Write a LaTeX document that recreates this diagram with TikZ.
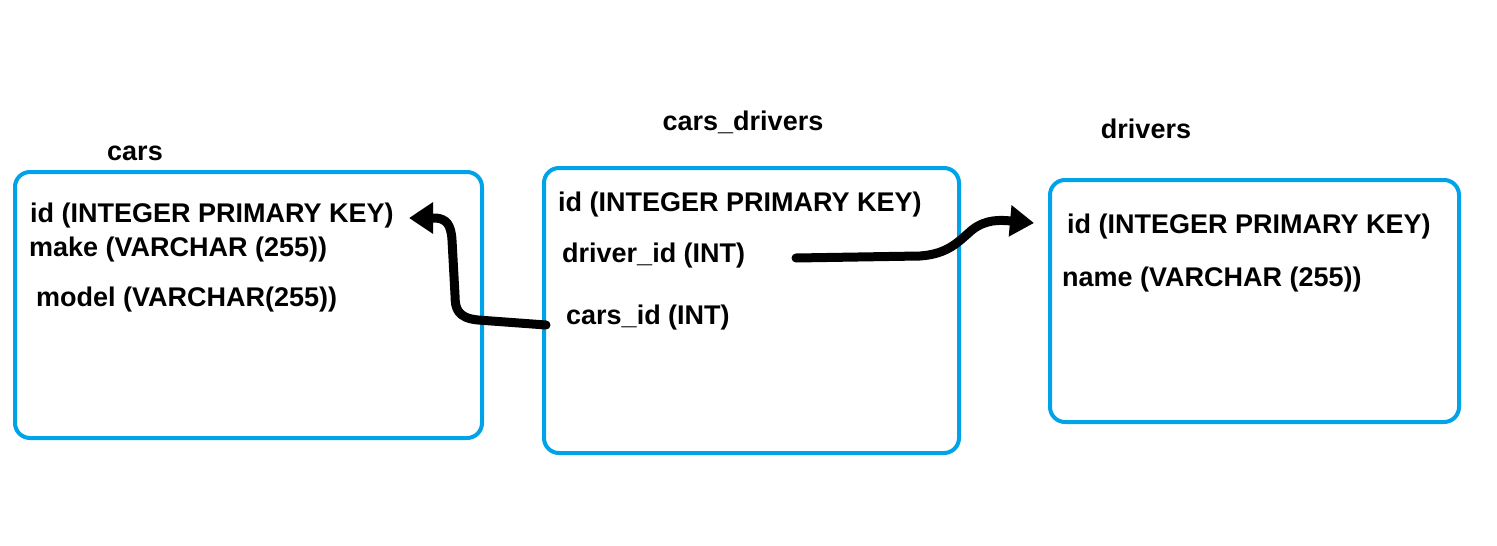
\documentclass[tikz,border=0pt]{standalone}
\usepackage{fontspec}
\setmainfont{Liberation Sans}
\usetikzlibrary{arrows.meta}
\definecolor{paintblue}{HTML}{00A2E8}
\begin{document}
\begin{tikzpicture}[x=1pt,y=-1pt,
  tbl/.style={draw=paintblue,line width=4pt,rounded corners=15pt,inner sep=0pt},
  title/.style={font=\fontsize{27}{30}\selectfont\bfseries,inner sep=0pt},
  field/.style={font=\fontsize{27}{30}\selectfont\bfseries,inner sep=0pt,anchor=west},
  fk/.style={line width=9pt,line cap=round,line join=round,-{Triangle[length=24pt,width=30pt]}}]
\useasboundingbox (0,0) rectangle (1497,546);
% tables
\node[tbl,minimum width=467pt,minimum height=266pt] (cars) at (248.5,305) {};
\node[tbl,minimum width=415pt,minimum height=285pt] (carsdrivers) at (751.5,310.5) {};
\node[tbl,minimum width=409pt,minimum height=242pt] (drivers) at (1254.5,301) {};
% titles
\node[title] (tcars) at (135,153) {cars};
\node[title] (tcd) at (743,122) {cars\_drivers};
\node[title] (tdrv) at (1146,129) {drivers};
% fields
\node[field] (cid) at (30,216) {id (INTEGER PRIMARY KEY)};
\node[field] (cmake) at (29,250) {make (VARCHAR (255))};
\node[field] (cmodel) at (36,300) {model (VARCHAR(255))};
\node[field] (cdid) at (558,205) {id (INTEGER PRIMARY KEY)};
\node[field] (cddrv) at (562,256) {driver\_id (INT)};
\node[field] (cdcar) at (566,318) {cars\_id (INT)};
\node[field] (did) at (1067,227) {id (INTEGER PRIMARY KEY)};
\node[field] (dname) at (1062,280) {name (VARCHAR (255))};
% connector ends
\coordinate (a1s) at (546,325);
\coordinate (a1e) at (409,218);
\coordinate (a2s) at (796,258);
\coordinate (a2e) at (1034,223);
\draw[fk] (a1s) -- (478,320) .. controls (457,318) and (455,308) .. (455,295)
  -- (452,240) .. controls (451,224) and (446,219) .. (436,218) -- (a1e);
\draw[fk] (a2s) -- (920,256) .. controls (948,254) and (958,242) .. (972,230)
  .. controls (986,219) and (1000,220) .. (a2e);
\end{tikzpicture}
\end{document}
